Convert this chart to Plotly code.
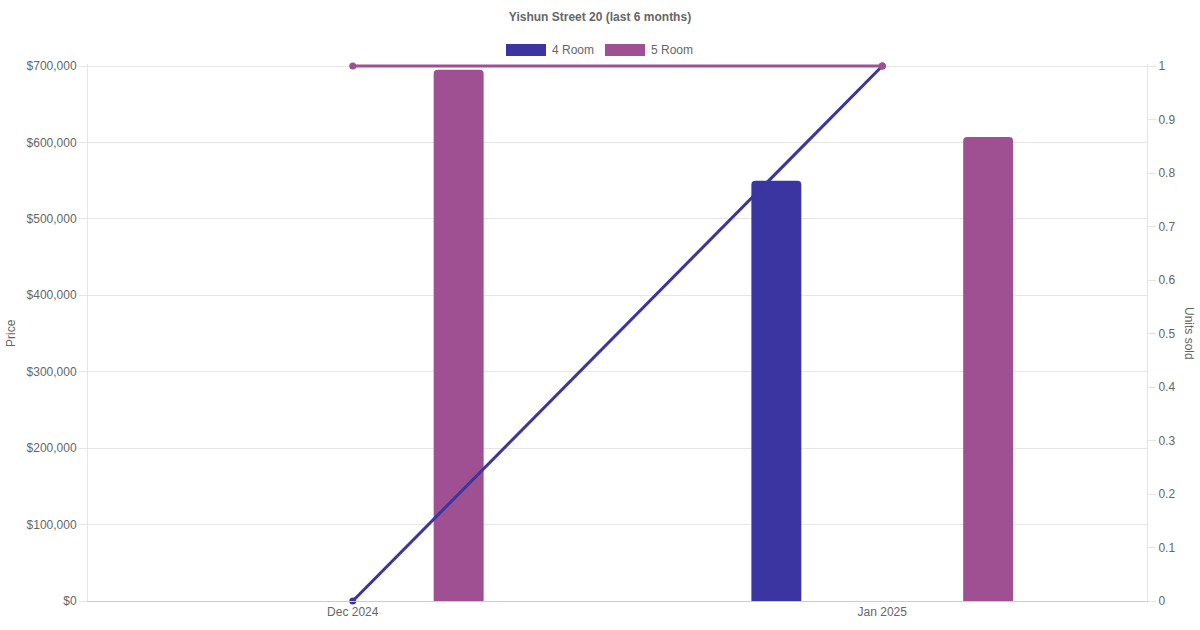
import plotly.graph_objects as go

months = ["Dec 2024", "Jan 2025"]
price_4room = [None, 550000]
price_5room = [695000, 607000]
units_4room = [0, 1]
units_5room = [1, 1]
series_names = ["4 Room", "5 Room"]
price_ticks = [0, 100000, 200000, 300000, 400000, 500000, 600000, 700000]
unit_ticks = [0, 0.1, 0.2, 0.3, 0.4, 0.5, 0.6, 0.7, 0.8, 0.9, 1]

C4 = "#3a35a0"
C5 = "#9f5092"
GRID = "#e5e5e5"
TXT = "#666666"
FONT = "Liberation Sans, Arial, sans-serif"

W, H = 1200, 630
PL, PR, PB = 88, 1147, 601      # plot area in page pixels
PT_DATA = 66                    # pixel of the top tick value
EXTRA = 2                       # small headroom so top lines are not clipped
PT = PT_DATA - EXTRA
PW, PH = PR - PL, PB - PT
scale = (PB - PT) / (PB - PT_DATA)

def px(x):
    return (x - PL) / PW

def py(y):
    return (PB - y) / PH

x_idx = list(range(len(months)))
bw = 50 / 530

fig = go.Figure()
fig.add_trace(go.Bar(x=x_idx, y=price_4room, name=series_names[0], marker=dict(color=C4, cornerradius=4, line=dict(width=0)),
                     width=bw, offset=-0.2 - bw / 2, showlegend=False))
fig.add_trace(go.Bar(x=x_idx, y=price_5room, name=series_names[1], marker=dict(color=C5, cornerradius=4, line=dict(width=0)),
                     width=bw, offset=0.2 - bw / 2, showlegend=False))
fig.add_trace(go.Scatter(x=x_idx, y=units_4room, yaxis="y2", mode="lines+markers", cliponaxis=False,
                         line=dict(color=C4, width=3), marker=dict(color=C4, size=7), showlegend=False))
fig.add_trace(go.Scatter(x=x_idx, y=units_5room, yaxis="y2", mode="lines+markers", cliponaxis=False,
                         line=dict(color=C5, width=3), marker=dict(color=C5, size=7), showlegend=False))

# custom legend
legend_items = [(series_names[0], C4, 506), (series_names[1], C5, 605)]
shapes = []
annotations = []
for name, col, x0 in legend_items:
    shapes.append(dict(type="rect", xref="paper", yref="paper",
                       x0=px(x0), x1=px(x0 + 40), y0=py(56), y1=py(44),
                       fillcolor=col, line=dict(width=0), layer="above"))
    annotations.append(dict(text=name, xref="paper", yref="paper",
                            x=px(x0 + 44), y=py(50),
                            xanchor="left", yanchor="middle", showarrow=False,
                            font=dict(size=12, color=TXT, family=FONT)))

annotations.append(dict(text="Price", xref="paper", yref="paper", x=px(11), y=py(333),
                        xanchor="center", yanchor="middle", textangle=-90, showarrow=False,
                        font=dict(size=12, color=TXT, family=FONT)))
annotations.append(dict(text="Units sold", xref="paper", yref="paper", x=px(1189), y=py(333),
                        xanchor="center", yanchor="middle", textangle=90, showarrow=False,
                        font=dict(size=12, color=TXT, family=FONT)))

fig.update_layout(
    width=W, height=H,
    margin=dict(l=PL, r=W - PR, t=PT, b=H - PB, autoexpand=False),
    paper_bgcolor="white", plot_bgcolor="white",
    font=dict(family=FONT, size=12, color=TXT),
    title=dict(text="<b>Yishun Street 20 (last 6 months)</b>", x=0.5, xanchor="center", xref="container",
               y=1 - 17 / H, yanchor="middle", yref="container", font=dict(size=12, color=TXT, family=FONT)),
    barmode="overlay",
    showlegend=False,
    hovermode=False,
    xaxis=dict(range=[-0.5, 1.5], tickmode="array", tickvals=x_idx, ticktext=months,
               showgrid=False, zeroline=False, showline=True, linecolor="#cccccc", linewidth=1,
               ticks="", color=TXT, tickfont=dict(size=12, color=TXT)),
    yaxis=dict(range=[0, price_ticks[-1] * scale], tickmode="array", tickvals=price_ticks,
               ticktext=["$" + f"{v:,}" for v in price_ticks],
               showgrid=True, gridcolor=GRID, zeroline=False, showline=True, linecolor=GRID,
               ticks="outside", ticklen=8, tickcolor=GRID, color=TXT, tickfont=dict(size=12, color=TXT)),
    yaxis2=dict(range=[0, unit_ticks[-1] * scale], overlaying="y", side="right", tickmode="array", tickvals=unit_ticks,
                ticktext=[f"{v:g}" for v in unit_ticks],
                showgrid=False, zeroline=False, showline=True, linecolor=GRID,
                ticks="outside", ticklen=8, tickcolor=GRID, color=TXT, tickfont=dict(size=12, color=TXT)),
    shapes=shapes,
    annotations=annotations,
)

fig.write_html("out.html", config={"displayModeBar": False},
               post_script="document.body.style.margin='0';document.body.style.overflow='hidden';")
